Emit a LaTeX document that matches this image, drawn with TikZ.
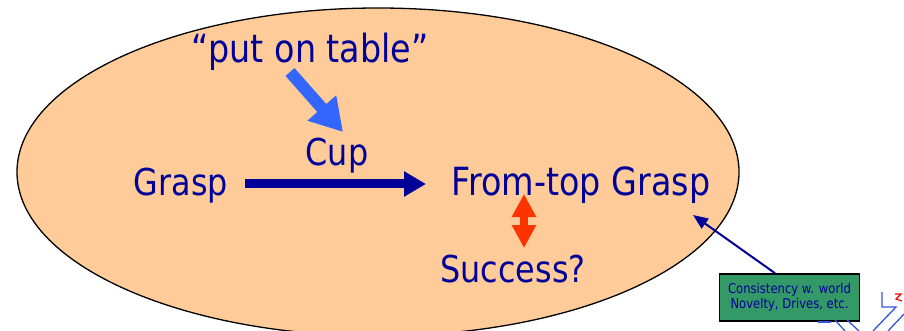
\documentclass[tikz,border=0pt]{standalone}
\usepackage{fontspec}
\setmainfont{DejaVu Sans}[FakeStretch=0.86]
\usetikzlibrary{arrows.meta}
\definecolor{peach}{RGB}{255,204,153}
\definecolor{navytext}{RGB}{0,0,153}
\definecolor{skyarrow}{RGB}{51,102,255}
\definecolor{redarrow}{RGB}{255,51,0}
\definecolor{notegreen}{RGB}{51,153,102}
\definecolor{logoblue}{RGB}{51,85,221}
\tikzset{
  label/.style={text=navytext, font=\fontsize{37}{40}\selectfont, inner sep=0pt, anchor=base},
  biglabel/.style={label, font=\fontsize{38.8}{42}\selectfont},
  notebox/.style={draw=black, line width=1.6pt, fill=notegreen, text=navytext,
    font=\fontsize{13.5}{15}\selectfont, align=center, minimum width=140pt,
    minimum height=47pt, inner sep=0pt},
  mainarrow/.style={draw=navytext, line width=9pt, -{Triangle[width=24pt,length=22pt]}},
  hintarrow/.style={draw=skyarrow, line width=12pt, -{Triangle[width=36pt,length=32pt]}},
  bothways/.style={draw=redarrow, line width=8pt,
    {Triangle[width=23pt,length=23pt]}-{Triangle[width=23pt,length=23pt]}},
  notearrow/.style={draw=navytext, line width=2pt, -{Triangle[width=12pt,length=15pt]}},
  logoline/.style={draw=logoblue, line width=1.3pt},
}
\begin{document}
\begin{tikzpicture}[x=1pt, y=-1pt]
  \useasboundingbox (0,0) rectangle (904,331);
  \clip (0,0) rectangle (904,331);
  \fill[white] (0,0) rectangle (904,331);

  % context ellipse
  \draw[fill=peach, line width=1.3pt] (378,172) ellipse [x radius=361pt, y radius=164pt];

  % labels
  \node[biglabel] (put) at (310,63) {“put on table”};
  \node[label] (cup) at (337,166) {Cup};
  \node[label] (grasp) at (181,195) {Grasp};
  \node[biglabel] (top) at (581,195) {From-top Grasp};
  \node[label] (succ) at (513,282) {Success?};

  % arrows between labels
  \coordinate (hintS) at (290,72);
  \coordinate (hintE) at (343,132);
  \draw[hintarrow] (hintS) -- (hintE);

  \coordinate (mainS) at (245,184);
  \coordinate (mainE) at (426,184);
  \draw[mainarrow] (mainS) -- (mainE);

  \coordinate (biS) at (524,194);
  \coordinate (biE) at (524,248);
  \draw[bothways] (biS) -- (biE);

  % note box
  \node[notebox] (note) at (789.5,297.5) {Consistency w. world\\Novelty, Drives, etc.};
  \coordinate (noteTip) at (693,215);
  \draw[notearrow] (note.north -| 775,0) -- (noteTip);

  % corner logo fragment
  \draw[logoline] (882,292) -- (882,307) -- (896,307) -- (873,331);
  \draw[logoline] (904,314) -- (888,331);
  \draw[logoline] (818,322) -- (830,322) -- (830,321);
  \draw[logoline] (835,320) -- (845,331);
  \draw[logoline] (847,320) -- (859,331);
  \draw[draw=red, line width=1.2pt] (895,294) -- (901,294) -- (896,299) -- (902,301);
\end{tikzpicture}
\end{document}
